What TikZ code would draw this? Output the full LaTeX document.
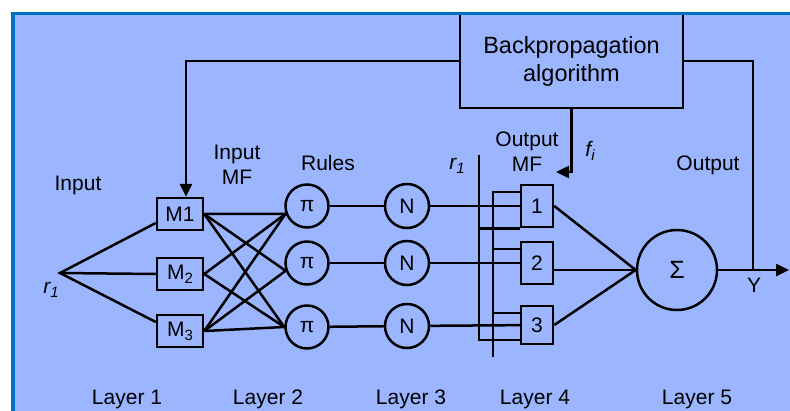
\documentclass[tikz,border=0pt]{standalone}
\usepackage{fontspec}
\setmainfont{Liberation Sans}
\usetikzlibrary{arrows.meta,calc}
\definecolor{bgblue}{RGB}{155,182,255}
\definecolor{frameblue}{RGB}{0,112,192}
\newcommand{\subdig}[1]{\raisebox{-4pt}{\fontsize{15}{15}\selectfont #1}}
\begin{document}
\begin{tikzpicture}[x=1pt,y=-1pt,
  ln/.style={line width=2.5pt},
  boxn/.style={draw,line width=2.5pt,inner sep=0pt,font=\fontsize{21}{24}\selectfont},
  circn/.style={draw,circle,line width=2.5pt,inner sep=0pt,minimum size=43pt,font=\fontsize{21}{24}\selectfont},
  lbl/.style={font=\fontsize{21}{25}\selectfont,align=center,inner sep=0pt},
  tip/.style={-{Triangle[length=13pt,width=12pt]}}]
\useasboundingbox (0,0) rectangle (790,410);
\clip (0,0) rectangle (790,410);
\fill[white] (0,0) rectangle (790,410);
\fill[bgblue] (13,13.5) rectangle (800,420);

% backpropagation box
\node[boxn,minimum width=223pt,minimum height=94pt,align=center,
      font=\fontsize{23.5}{28}\selectfont] (bp) at (571.5,61) {Backpropagation\\algorithm};

% input memberships
\node[boxn,minimum width=46pt,minimum height=32pt] (M1) at (180,214) {M1};
\node[boxn,minimum width=46pt,minimum height=32pt] (M2) at (180,274) {M\subdig{2}};
\node[boxn,minimum width=46pt,minimum height=32pt] (M3) at (180,331) {M\subdig{3}};
\coordinate (r1) at (60,273);

% rules
\node[circn] (P1) at (307,206) {π};
\node[circn] (P2) at (307,263) {π};
\node[circn] (P3) at (307,327) {π};
\node[circn,minimum size=44pt] (N1) at (407,206) {N};
\node[circn,minimum size=44pt] (N2) at (407,263) {N};
\node[circn,minimum size=44pt] (N3) at (407,326) {N};

% output MF
\node[boxn,minimum width=32pt,minimum height=42pt] (O1) at (537,206) {1};
\node[boxn,minimum width=32pt,minimum height=42pt] (O2) at (537,263) {2};
\node[boxn,minimum width=32pt,minimum height=38pt] (O3) at (537,325) {3};

% sum
\node[circn,minimum size=80pt,font=\fontsize{25}{27}\selectfont] (S) at (677,270) {Σ};

% coordinates
\coordinate (V1t) at (479,155);
\coordinate (V1b) at (479,340);
\coordinate (V2t) at (493,192);
\coordinate (V2b) at (493,357);
\coordinate (yj) at (753,270);
\coordinate (yout) at (789,270);
\coordinate (fiend) at (556,172);

% r1 to M
\draw[ln] ($(M1.west)+(0,9)$) -- (r1) -- ($(M3.west)+(0,-9)$);
\draw[ln] (r1) -- (M2.west);

% M to pi
\draw[ln] (M1.east) -- (P1.200);
\draw[ln] (M1.east) -- (P2.200);
\draw[ln] (M1.east) -- (P3.west);
\draw[ln] (M2.east) -- (P1.200);
\draw[ln] (M2.east) -- (P3.west);
\draw[ln] (M3.east) -- (P1.200);
\draw[ln] (M3.east) -- (P2.200);
\draw[ln] (M3.east) -- (P3.west);

% pi to N to output MF
\draw[ln] (P1) -- (N1) -- (O1);
\draw[ln] (P2) -- (N2) -- (O2);
\draw[ln] (P3) -- (N3) -- (O3);

% ladder lines
\draw[ln] (V1t) -- (V1b) -- (V1b -| O3.west);
\draw[ln] (V1t |- O1.south) -- (O1.south west);
\draw[ln] (V2t -| O1.west) -- (V2t) -- (V2b);
\draw[ln] (V2t |- 0,249) -- (O2.west |- 0,249);
\draw[ln] (V2t |- 0,313) -- (O3.west |- 0,313);

% output MF to sum
\draw[ln] (O1.east) -- (S.west);
\draw[ln] (O2.east |- S.west) -- (S.west);
\draw[ln] (O3.east) -- (S.west);

% output
\draw[ln,tip] (S.east) -- (yout);
\draw[ln] (bp.east) -| (yj);

% feedback
\draw[ln,tip] (bp.west) -| ($(M1.north)+(6,0)$);
\draw[ln,tip] (bp.south) |- (fiend);

% labels
\node[lbl] (lin) at (78,185) {Input};
\node[lbl] (lr1) at (51,290) {\itshape r\raisebox{-4pt}{\fontsize{15}{15}\selectfont 1}};
\node[lbl] (limf) at (237,165) {Input\\MF};
\node[lbl] (lrules) at (328,163) {Rules};
\node[lbl] (lr1b) at (457,166) {\itshape r\raisebox{-4pt}{\fontsize{15}{15}\selectfont 1}};
\node[lbl] (lomf) at (527,152) {Output\\MF};
\node[lbl] (lfi) at (590,151) {\itshape f\raisebox{-4pt}{\fontsize{15}{15}\selectfont i}};
\node[lbl] (lout) at (708,165) {Output};
\node[lbl] (ly) at (754,285) {Y};
\node[lbl] (L1) at (127,399) {Layer 1};
\node[lbl] (L2) at (268,399) {Layer 2};
\node[lbl] (L3) at (411,399) {Layer 3};
\node[lbl] (L4) at (535,399) {Layer 4};
\node[lbl] (L5) at (697,399) {Layer 5};

% frame
\draw[frameblue,line width=3.5pt] (13,420) -- (13,13.5) -- (800,13.5);
\end{tikzpicture}
\end{document}
